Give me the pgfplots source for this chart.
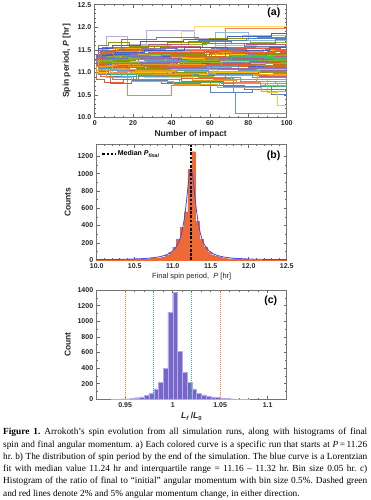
\documentclass[border=0pt]{standalone}
\usepackage{fontspec}
\setmainfont{Liberation Sans}
\newfontfamily\capfont{Liberation Serif}
\usepackage{pgfplots}
\pgfplotsset{compat=1.18}
\definecolor{m1}{HTML}{5E81B5}
\definecolor{m2}{HTML}{E19C24}
\definecolor{m3}{HTML}{8FB032}
\definecolor{m4}{HTML}{EB6235}
\definecolor{m5}{HTML}{8778B3}
\definecolor{m6}{HTML}{C56E1A}
\definecolor{m7}{HTML}{5D9EC7}
\definecolor{m8}{HTML}{FFBF00}
\definecolor{m9}{HTML}{A5609D}
\definecolor{m10}{HTML}{929600}
\definecolor{m11}{HTML}{E95536}
\definecolor{m12}{HTML}{3F5FC9}
\definecolor{m13}{HTML}{F89F13}
\definecolor{m14}{HTML}{BC5B80}
\definecolor{m15}{HTML}{47B66D}
\definecolor{historange}{HTML}{EE6A35}
\definecolor{lorblue}{HTML}{4646E6}
\definecolor{histpurple}{HTML}{7666C8}
\definecolor{histedge}{HTML}{B4AAEE}
\definecolor{dashred}{HTML}{EE7E5A}
\definecolor{dashgreen}{HTML}{3FAE8C}
\pgfplotscreateplotcyclelist{mma}{{m1},{m2},{m3},{m4},{m5},{m6},{m7},{m8},{m9},{m10},{m11},{m12},{m13},{m14},{m15}}
\pgfplotsset{
  panel/.style={
    scale only axis, anchor=north west,
    axis line style={draw=black!55, line width=0.5pt},
    tick style={draw=black!60, line width=0.45pt},
    major tick length=3pt, minor tick length=1.6pt,
    tick align=inside,
    /pgf/number format/assume math mode=true,
    /pgf/number format/1000 sep={},
    tick label style={font=\bfseries\fontsize{7}{8}\selectfont, text=black!85},
    label style={font=\bfseries\fontsize{8.5}{10}\selectfont, text=black!85},
    xlabel style={yshift=2pt},
  },
}
\begin{document}
\begin{tikzpicture}
\useasboundingbox (0,0) rectangle (370pt,-500pt);
% ---------------- (a) ----------------
\begin{axis}[panel, at={(94.7pt,-4.7pt)}, width=192pt, height=112.6pt,
  xmin=0, xmax=100, ymin=10, ymax=12.5,
  xtick={0,20,40,60,80,100}, ytick={10,10.5,11,11.5,12,12.5},
  yticklabel style={/pgf/number format/fixed, /pgf/number format/fixed zerofill, /pgf/number format/precision=1},
  minor x tick num=3, minor y tick num=4,
  xlabel={Number of impact}, ylabel={Spin period, \textit{P} [hr]},
  cycle list name=mma, no markers,
  every axis plot/.append style={const plot, line width=0.95pt}]
\addplot coordinates {(0,11.26)(2,11.30)(7,11.42)(19,11.48)(33,11.44)(61,11.52)(88,11.58)(100,11.58)};
\addplot coordinates {(0,11.26)(1,11.22)(5,11.10)(14,11.05)(29,10.98)(47,11.02)(73,10.95)(100,10.95)};
\addplot coordinates {(0,11.26)(3,11.35)(6,11.55)(12,11.50)(37,11.62)(58,11.70)(81,11.66)(100,11.66)};
\addplot+[m4!80, line width=0.6pt] coordinates {(0,11.26)(2,11.18)(8,11.00)(17,10.48)(40,10.70)(65,10.78)(86,10.72)(100,10.72)};
\addplot+[m5!60, line width=0.6pt] coordinates {(0,11.26)(4,11.28)(6,11.80)(17,11.62)(27,11.93)(52,11.75)(77,11.82)(100,11.82)};
\addplot coordinates {(0,11.26)(1,11.24)(9,11.20)(22,11.15)(44,11.20)(70,11.12)(93,11.18)(100,11.18)};
\addplot+[m7, line width=0.6pt] coordinates {(0,11.26)(3,11.12)(10,11.05)(25,10.92)(50,10.86)(72,10.55)(73,10.08)(100,10.08)};
\addplot+[m8!60, line width=0.6pt] coordinates {(0,11.26)(2,11.40)(11,11.36)(30,11.30)(45,11.90)(52,12.03)(100,12.03)};
\addplot coordinates {(0,11.26)(1,11.30)(4,11.45)(15,11.40)(38,11.35)(60,11.42)(85,11.38)(100,11.38)};
\addplot+[m1, line width=0.6pt] coordinates {(0,11.26)(2,11.08)(6,10.90)(20,10.85)(45,10.80)(67,10.68)(92,10.50)(100,10.50)};
\addplot coordinates {(0,11.26)(3,11.20)(12,11.28)(28,11.22)(48,11.30)(75,11.25)(96,11.32)(100,11.32)};
\addplot+[m4!80, line width=0.6pt] coordinates {(0,11.26)(1,11.33)(8,11.38)(24,11.46)(42,11.55)(68,11.98)(100,11.98)};
\addplot coordinates {(0,11.26)(2,11.15)(7,11.08)(18,11.12)(36,11.05)(59,11.00)(84,10.92)(100,10.92)};
\addplot coordinates {(0,11.26)(4,11.42)(13,11.50)(31,11.58)(55,11.50)(79,11.62)(100,11.62)};
\addplot coordinates {(0,11.26)(1,11.27)(5,11.32)(16,11.25)(34,11.18)(57,11.22)(82,11.15)(100,11.15)};
\addplot+[m8!80, line width=0.6pt] coordinates {(0,11.26)(3,11.05)(9,10.95)(26,10.88)(49,10.95)(71,10.85)(90,10.55)(95,10.27)(100,10.27)};
\addplot+[m7!70, line width=0.6pt] coordinates {(0,11.26)(2,11.36)(10,11.30)(23,11.38)(41,11.33)(63,11.88)(80,11.70)(100,11.74)};
\addplot coordinates {(0,11.26)(1,11.20)(6,11.26)(21,11.32)(39,11.26)(62,11.30)(87,11.22)(100,11.22)};
\addplot coordinates {(0,11.26)(3,11.30)(11,11.22)(27,11.10)(46,11.15)(69,11.08)(90,11.02)(100,11.02)};
\addplot coordinates {(0,11.26)(2,11.48)(8,11.44)(20,11.52)(43,11.48)(66,11.56)(89,11.50)(100,11.50)};
\addplot coordinates {(0,11.26)(1,11.16)(7,11.20)(19,11.12)(35,11.22)(60,11.18)(83,11.26)(100,11.26)};
\addplot coordinates {(0,11.26)(4,10.98)(14,10.90)(32,10.96)(54,10.88)(76,10.80)(94,10.76)(100,10.76)};
\addplot coordinates {(0,11.26)(2,11.26)(9,11.34)(25,11.40)(44,11.46)(64,11.40)(91,11.48)(100,11.48)};
\addplot coordinates {(0,11.26)(1,11.38)(5,11.30)(18,11.24)(38,11.28)(61,11.34)(78,11.28)(100,11.28)};
\addplot coordinates {(0,11.26)(3,11.10)(8,11.16)(22,11.08)(40,11.00)(58,11.06)(85,11.00)(100,11.00)};
\addplot coordinates {(0,11.26)(2,11.32)(12,11.42)(29,11.36)(51,11.44)(74,11.52)(97,11.44)(100,11.44)};
\addplot coordinates {(0,11.26)(1,11.22)(6,11.14)(16,11.18)(33,11.26)(56,11.20)(80,11.12)(100,11.08)};
\addplot coordinates {(0,11.26)(3,11.45)(10,11.52)(24,11.46)(45,11.40)(67,11.46)(88,11.54)(100,11.54)};
\addplot coordinates {(0,11.26)(2,11.02)(7,10.94)(21,11.00)(41,10.92)(63,10.98)(86,10.90)(100,10.86)};
\addplot coordinates {(0,11.26)(1,11.28)(4,11.24)(15,11.30)(37,11.36)(59,11.28)(81,11.34)(100,11.36)};
\addplot coordinates {(0,11.26)(3,11.18)(11,11.10)(26,11.16)(48,11.08)(70,11.14)(92,11.06)(100,11.06)};
\addplot coordinates {(0,11.26)(2,11.40)(9,11.46)(23,11.40)(42,11.50)(65,11.44)(90,11.38)(100,11.40)};
\addplot coordinates {(0,11.26)(1,11.12)(8,11.04)(20,10.96)(39,10.90)(62,10.84)(84,10.80)(100,10.82)};
\addplot coordinates {(0,11.26)(4,11.34)(13,11.28)(30,11.34)(50,11.26)(73,11.32)(95,11.26)(100,11.24)};
\addplot coordinates {(0,11.26)(2,11.24)(6,11.30)(17,11.36)(36,11.30)(57,11.36)(79,11.42)(100,11.42)};
\addplot coordinates {(0,11.26)(1,11.30)(10,11.24)(28,11.18)(47,11.24)(68,11.18)(89,11.12)(100,11.12)};
\addplot coordinates {(0,11.26)(3,11.08)(12,11.14)(27,11.06)(52,11.12)(75,11.04)(93,10.98)(100,10.98)};
\addplot coordinates {(0,11.26)(2,11.50)(7,11.56)(22,11.60)(40,11.54)(63,11.60)(84,11.56)(100,11.70)};
\addplot coordinates {(0,11.26)(1,11.18)(5,11.12)(19,11.20)(43,11.14)(66,11.08)(87,11.04)(100,11.04)};
\addplot coordinates {(0,11.26)(3,11.28)(14,11.34)(31,11.28)(53,11.36)(77,11.30)(96,11.36)(100,11.36)};
\addplot+[m1, line width=0.6pt] coordinates {(0,11.26)(2,10.95)(8,10.75)(19,10.82)(38,10.78)(60,10.55)(82,10.62)(100,10.65)};
\addplot coordinates {(0,11.26)(1,11.35)(6,11.40)(18,11.34)(39,11.40)(58,11.34)(83,11.40)(100,11.30)};
\addplot coordinates {(0,11.26)(3,11.22)(9,11.18)(24,11.24)(46,11.18)(69,11.24)(91,11.20)(100,11.20)};
\addplot coordinates {(0,11.26)(2,11.14)(11,11.20)(29,11.28)(50,11.22)(72,11.28)(94,11.34)(100,11.34)};
\addplot coordinates {(0,11.26)(1,11.26)(7,11.22)(20,11.28)(44,11.34)(66,11.26)(88,11.30)(100,11.30)};
\addplot coordinates {(0,11.26)(4,11.55)(15,11.48)(34,11.56)(56,11.64)(78,11.58)(100,11.58)};
\addplot coordinates {(0,11.26)(2,11.06)(10,11.12)(25,11.18)(47,11.10)(71,11.16)(93,11.10)(100,11.10)};
\addplot coordinates {(0,11.26)(1,11.32)(8,11.26)(21,11.20)(42,11.26)(64,11.20)(86,11.26)(100,11.26)};
\addplot coordinates {(0,11.26)(3,10.90)(9,10.85)(23,10.92)(45,10.86)(68,10.92)(90,10.88)(100,10.88)};
\addplot coordinates {(0,11.26)(2,11.44)(7,11.38)(19,11.30)(35,11.38)(58,11.46)(80,11.40)(100,11.46)};
\addplot coordinates {(0,11.26)(1,11.20)(12,11.16)(30,11.10)(53,11.16)(76,11.22)(97,11.16)(100,11.16)};
\addplot coordinates {(0,11.26)(3,11.38)(10,11.32)(26,11.26)(49,11.32)(70,11.38)(89,11.32)(100,11.32)};
\addplot coordinates {(0,11.26)(2,11.00)(6,11.06)(18,11.00)(40,11.06)(62,11.00)(85,11.06)(100,11.06)};
\addplot coordinates {(0,11.26)(1,11.24)(9,11.30)(23,11.22)(43,11.28)(67,11.22)(90,11.28)(100,11.28)};
\addplot coordinates {(0,11.26)(2,11.60)(7,11.66)(18,11.58)(38,11.66)(60,11.74)(85,11.78)(100,11.78)};
\addplot coordinates {(0,11.26)(1,10.85)(5,10.78)(15,10.84)(35,10.76)(55,10.70)(78,10.62)(100,10.60)};
\addplot coordinates {(0,11.26)(2,11.52)(9,11.60)(24,11.68)(46,11.72)(69,11.80)(92,11.86)(100,11.86)};
\addplot coordinates {(0,11.26)(1,10.98)(6,10.88)(19,10.80)(41,10.72)(64,10.66)(87,10.58)(100,10.58)};
\addplot coordinates {(0,11.26)(3,11.46)(11,11.54)(28,11.62)(49,11.68)(71,11.64)(94,11.72)(100,11.72)};
\addplot coordinates {(0,11.26)(2,11.10)(8,10.96)(22,10.84)(44,10.78)(66,10.74)(89,10.68)(100,10.68)};
\addplot coordinates {(0,11.26)(1,11.40)(5,11.48)(14,11.72)(32,11.78)(54,11.70)(79,11.76)(100,11.76)};
\addplot coordinates {(0,11.26)(3,11.16)(12,11.02)(30,10.94)(51,10.82)(74,10.76)(95,10.70)(100,10.70)};
\addplot coordinates {(0,11.26)(1,11.29)(4,11.36)(13,11.31)(27,11.39)(48,11.35)(70,11.41)(92,11.37)(100,11.37)};
\addplot coordinates {(0,11.26)(2,11.19)(6,11.13)(17,11.07)(34,11.13)(56,11.07)(77,11.01)(100,11.01)};
\addplot coordinates {(0,11.26)(1,11.33)(9,11.27)(21,11.21)(41,11.15)(63,11.21)(85,11.15)(100,11.13)};
\addplot coordinates {(0,11.26)(3,11.42)(8,11.48)(25,11.42)(46,11.36)(68,11.42)(90,11.46)(100,11.46)};
\addplot coordinates {(0,11.26)(2,11.09)(7,11.03)(19,10.97)(38,11.03)(59,10.95)(82,10.89)(100,10.89)};
\addplot coordinates {(0,11.26)(1,11.25)(5,11.19)(16,11.25)(37,11.31)(57,11.25)(79,11.19)(100,11.21)};
\addplot coordinates {(0,11.26)(3,11.31)(10,11.37)(24,11.31)(45,11.25)(65,11.31)(88,11.25)(100,11.27)};
\addplot coordinates {(0,11.26)(2,11.21)(8,11.27)(20,11.33)(40,11.39)(61,11.33)(83,11.39)(100,11.39)};
\addplot coordinates {(0,11.26)(1,11.17)(6,11.11)(18,11.05)(36,11.11)(58,11.17)(80,11.11)(100,11.09)};
\addplot coordinates {(0,11.26)(4,11.37)(11,11.43)(26,11.49)(47,11.55)(69,11.49)(91,11.55)(100,11.55)};
\addplot coordinates {(0,11.26)(2,11.13)(9,11.07)(22,11.01)(43,11.07)(64,11.01)(86,10.95)(100,10.95)};
\addplot coordinates {(0,11.26)(1,11.31)(7,11.25)(18,11.19)(39,11.25)(60,11.19)(81,11.23)(100,11.23)};
\addplot coordinates {(0,11.26)(3,11.23)(11,11.29)(27,11.23)(49,11.29)(71,11.35)(93,11.29)(100,11.29)};
\addplot coordinates {(0,11.26)(2,11.36)(6,11.30)(17,11.36)(35,11.42)(57,11.48)(78,11.42)(100,11.44)};
\addplot coordinates {(0,11.26)(1,11.04)(8,10.98)(21,11.04)(42,10.98)(63,10.92)(85,10.84)(100,10.84)};
\addplot coordinates {(0,11.26)(3,11.27)(9,11.21)(23,11.15)(44,11.21)(66,11.15)(89,11.19)(100,11.19)};
\addplot coordinates {(0,11.26)(2,11.43)(10,11.37)(28,11.43)(50,11.49)(72,11.43)(94,11.49)(100,11.49)};
\addplot coordinates {(0,11.26)(1,11.14)(5,11.20)(19,11.14)(38,11.08)(61,11.14)(84,11.08)(100,11.04)};
\node[anchor=east, font=\bfseries\fontsize{10.5}{12}\selectfont] at (rel axis cs:0.985,0.925) {(a)};
\end{axis}
% ---------------- (b) ----------------
\begin{axis}[panel, at={(96.7pt,-144.7pt)}, width=190pt, height=115.3pt,
  xmin=10, xmax=12.5, ymin=0, ymax=1335,
  xtick={10,10.5,11,11.5,12,12.5}, ytick={0,200,400,600,800,1000,1200},
  xticklabel style={/pgf/number format/fixed, /pgf/number format/fixed zerofill, /pgf/number format/precision=1},
  minor x tick num=4, minor y tick num=1,
  xlabel={Final spin period,\ \ \textit{P} [hr]}, ylabel={Counts},
  xlabel style={font=\fontsize{7.5}{9}\selectfont},
  legend style={draw=none, fill=none, at={(0.02,0.975)}, anchor=north west, font=\bfseries\fontsize{7}{8}\selectfont, inner sep=1pt},
  legend image code/.code={\draw[#1] (0pt,0pt) -- (13pt,0pt);}]
\addplot[ybar interval, fill=historange, draw=historange, line width=0.2pt, forget plot] coordinates {
(10.00,2)(10.05,2)(10.10,3)(10.15,3)(10.20,4)(10.25,4)(10.30,5)(10.35,6)(10.40,6)(10.45,7)
(10.50,8)(10.55,10)(10.60,12)(10.65,14)(10.70,17)(10.75,20)(10.80,26)(10.85,35)(10.90,52)(10.95,90)
(11.00,148)(11.05,245)(11.10,380)(11.15,560)(11.20,1050)(11.25,1255)(11.30,445)(11.35,240)(11.40,155)(11.45,88)
(11.50,60)(11.55,44)(11.60,32)(11.65,22)(11.70,16)(11.75,12)(11.80,9)(11.85,7)(11.90,6)(11.95,5)
(12.00,4)(12.05,3)(12.10,3)(12.15,2)(12.20,2)(12.25,1)(12.30,1)(12.35,1)(12.40,1)(12.45,1)(12.50,1)};
\addplot[lorblue, line width=0.8pt, smooth, forget plot] coordinates {
(10.0,4.4)(10.2,6.2)(10.4,9.4)(10.6,16.2)(10.7,22.6)(10.8,33.6)(10.85,42.4)(10.9,55.1)(10.95,74.3)
(11.0,105)(11.04,145)(11.08,210)(11.11,289)(11.14,410)(11.16,525)(11.18,672)(11.20,840)(11.22,988)(11.24,1050)
(11.26,988)(11.28,840)(11.30,672)(11.32,525)(11.34,410)(11.37,289)(11.40,210)(11.44,145)(11.48,105)
(11.53,74.3)(11.58,55.1)(11.63,42.4)(11.68,33.6)(11.78,22.6)(11.88,16.2)(12.08,9.4)(12.28,6.2)(12.5,4.2)};
\addplot[black, line width=1.2pt, dash pattern=on 2.6pt off 1.6pt] coordinates {(11.24,0)(11.24,1335)};
\addlegendentry{Median \textit{P}\textsubscript{\textit{final}}}
\node[anchor=east, font=\bfseries\fontsize{10.5}{12}\selectfont] at (rel axis cs:0.985,0.905) {(b)};
\end{axis}
% ---------------- (c) ----------------
\begin{axis}[panel, at={(96.7pt,-290pt)}, width=190pt, height=109.3pt,
  xmin=0.92, xmax=1.12, ymin=0, ymax=1400,
  xtick={0.95,1,1.05,1.1}, xticklabels={0.95,1,1.05,1.1},
  ytick={0,200,400,600,800,1000,1200,1400},
  minor x tick num=4, minor y tick num=1,
  xlabel={\textit{L}\textsubscript{\textit{f}}\,/\textit{L}\textsubscript{0}}, ylabel={Count}]
\addplot[ybar interval, fill=histpurple, draw=histedge, line width=0.4pt] coordinates {
(0.935,1)(0.940,2)(0.945,4)(0.950,7)(0.955,12)(0.960,20)(0.965,32)(0.970,48)(0.975,75)(0.980,135)
(0.985,220)(0.990,395)(0.995,1110)(1.000,1370)(1.005,615)(1.010,345)(1.015,220)(1.020,135)(1.025,80)(1.030,58)
(1.035,42)(1.040,30)(1.045,22)(1.050,14)(1.055,8)(1.060,5)(1.065,3)(1.070,2)(1.075,1)(1.080,1)};
\addplot[dashred, line width=0.6pt, dash pattern=on 1pt off 1pt] coordinates {(0.95,0)(0.95,1400)};
\addplot[dashred, line width=0.6pt, dash pattern=on 1pt off 1pt] coordinates {(1.05,0)(1.05,1400)};
\addplot[dashgreen, line width=0.6pt, dash pattern=on 1pt off 1pt] coordinates {(0.98,0)(0.98,1400)};
\addplot[dashgreen, line width=0.6pt, dash pattern=on 1pt off 1pt] coordinates {(1.02,0)(1.02,1400)};
\node[anchor=east, font=\bfseries\fontsize{10.5}{12}\selectfont] at (rel axis cs:0.968,0.905) {(c)};
\end{axis}
% ---------------- caption ----------------
\node[anchor=north west, inner sep=0pt, text width=364pt, align=justify,
  font=\capfont\fontsize{9.3}{12.3}\selectfont\frenchspacing] at (3pt,-428pt)
{\textbf{Figure 1.} Arrokoth’s spin evolution from all simulation runs, along with histograms of final\linebreak
spin and final angular momentum. a) Each colored curve is a specific run that starts at \textit{P}\,=\,11.26\linebreak
hr. b) The distribution of spin period by the end of the simulation. The blue curve is a Lorentzian\linebreak
fit with median value 11.24 hr and interquartile range = 11.16 – 11.32 hr. Bin size 0.05 hr. c)\linebreak
Histogram of the ratio of final to “initial” angular momentum with bin size 0.5\%. Dashed green and red lines denote 2\% and 5\% angular momentum change, in either direction.};
\end{tikzpicture}
\end{document}
